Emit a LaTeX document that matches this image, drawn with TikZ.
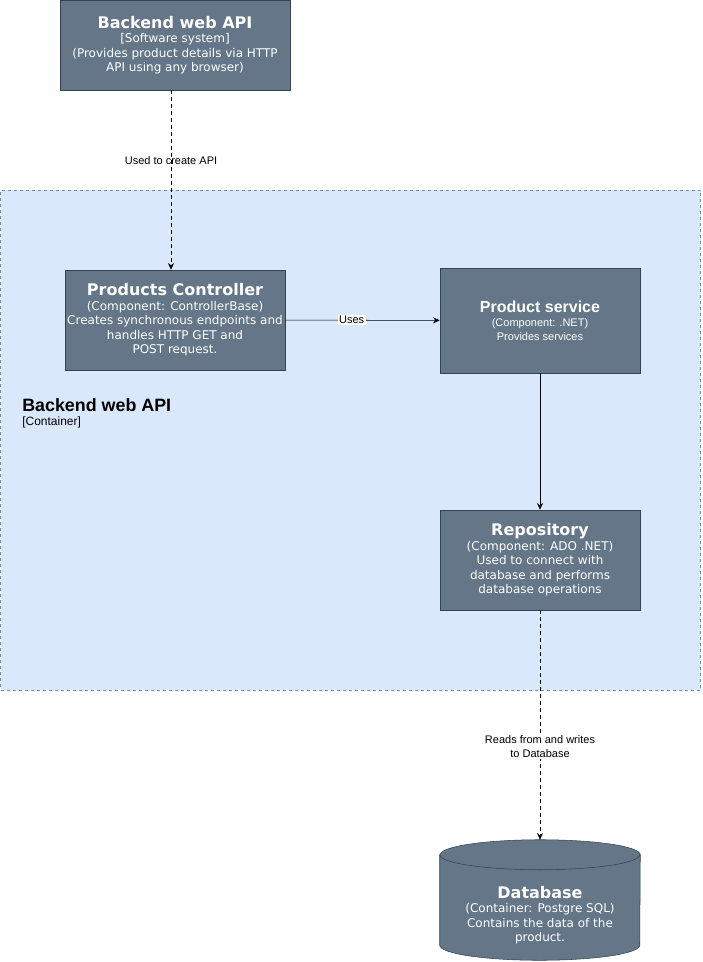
\documentclass[tikz,border=0pt]{standalone}
\usepackage{fontspec}
\setmainfont{DejaVu Sans}
\newfontfamily\arialfont{Liberation Sans}
\usetikzlibrary{positioning,arrows.meta}
\definecolor{boxfill}{HTML}{647687}
\definecolor{boxline}{HTML}{314354}
\definecolor{contfill}{HTML}{DAE8FC}
\definecolor{contline}{HTML}{6C8EBF}

\begin{document}
\begin{tikzpicture}[
    x=0.75pt, y=-0.75pt,
    % Stile per il container (riquadro azzurro)
    container/.style={
        rectangle,
        draw=contline,
        fill=contfill,
        dash pattern=on 2.25pt off 2.25pt,
        minimum width=525pt,
        minimum height=375pt,
        inner sep=0pt
    },
    % Stile per i box dei componenti
    compbox/.style={
        rectangle,
        draw=boxline,
        fill=boxfill,
        text=white,
        align=center,
        inner sep=0pt,
        font=\fontsize{9}{10.9}\selectfont
    },
    % Stile per il database (cilindro disegnato a mano)
    dbcyl/.style={draw=boxline, fill=boxfill},
    % Stili per le frecce
    arrow/.style={-{Stealth[length=5pt,width=4.5pt]}, color=black},
    dashedarrow/.style={arrow, dash pattern=on 3pt off 2.25pt},
    % Stili per le etichette
    label/.style={font=\arialfont\fontsize{8.25}{10.5}\selectfont, fill=white, inner sep=1pt, align=center}
]
\useasboundingbox (0,0) rectangle (702,962);

% Container: Backend web API
\node[container] (backend) at (350.5,440) {};
\node[anchor=north west, align=left, inner sep=0pt] (backendlabel) at (22,398)
    {{\arialfont\bfseries\fontsize{13.4}{15}\selectfont Backend web API}\\[-1pt]
     {\arialfont\fontsize{9}{10}\selectfont [Container]}};

% Software system
\node[compbox, minimum width=172.5pt, minimum height=67.5pt] (websys) at (175,45) {
    {\bfseries\fontsize{12}{15}\selectfont Backend web API}\\[0pt]
    [Software system]\\
    (Provides product details via HTTP\\
    API using any browser)
};

% Componenti
\node[compbox, minimum width=165pt, minimum height=75pt] (controller) at (175,320) {
    {\bfseries\fontsize{12}{15}\selectfont Products Controller}\\[0pt]
    (Component: ControllerBase)\\
    Creates synchronous endpoints and\\
    handles HTTP GET and\\
    POST request.
};
\node[compbox, minimum width=150pt, minimum height=78.75pt, font=\arialfont\fontsize{8.25}{10}\selectfont] (service) at (540,320.5) {
    {\bfseries\fontsize{12}{15}\selectfont Product service}\\[1pt]
    (Component: .NET)\\
    Provides services
};
\node[compbox, minimum width=150pt, minimum height=75pt] (repository) at (540,560) {
    {\bfseries\fontsize{12}{15}\selectfont Repository}\\[0pt]
    (Component: ADO .NET)\\
    Used to connect with\\
    database and performs\\
    database operations
};

% Database
\node[minimum width=150pt, minimum height=90pt, inner sep=0pt] (database) at (540,900) {};
\draw[dbcyl] ([yshift=-11.25pt]database.north west) -- ([yshift=11.25pt]database.south west)
    arc (180:360:75pt and 11.25pt) -- ([yshift=-11.25pt]database.north east)
    arc (0:180:75pt and 11.25pt) -- cycle;
\draw[boxline] ([yshift=-11.25pt]database.north west) arc (180:360:75pt and 11.25pt);
\node[text=white, align=center, inner sep=0pt, font=\fontsize{9}{10.9}\selectfont] (dbtext) at (540,915) {
    {\bfseries\fontsize{12}{15}\selectfont Database}\\[0pt]
    (Container: Postgre SQL)\\
    Contains the data of the\\
    product.
};

% Connessioni
\draw[dashedarrow] ([xshift=-3pt]websys.south) -- node[label, fill=none, pos=0.39] {Used to create API} ([xshift=-3pt]controller.north);
\draw[arrow] (controller) -- node[label, pos=0.43] {Uses} (service);
\draw[arrow] (service) -- (repository);
\draw[dashedarrow] (repository) -- node[label, pos=0.595] {Reads from and writes\\to Database} (database);

\end{tikzpicture}
\end{document}
